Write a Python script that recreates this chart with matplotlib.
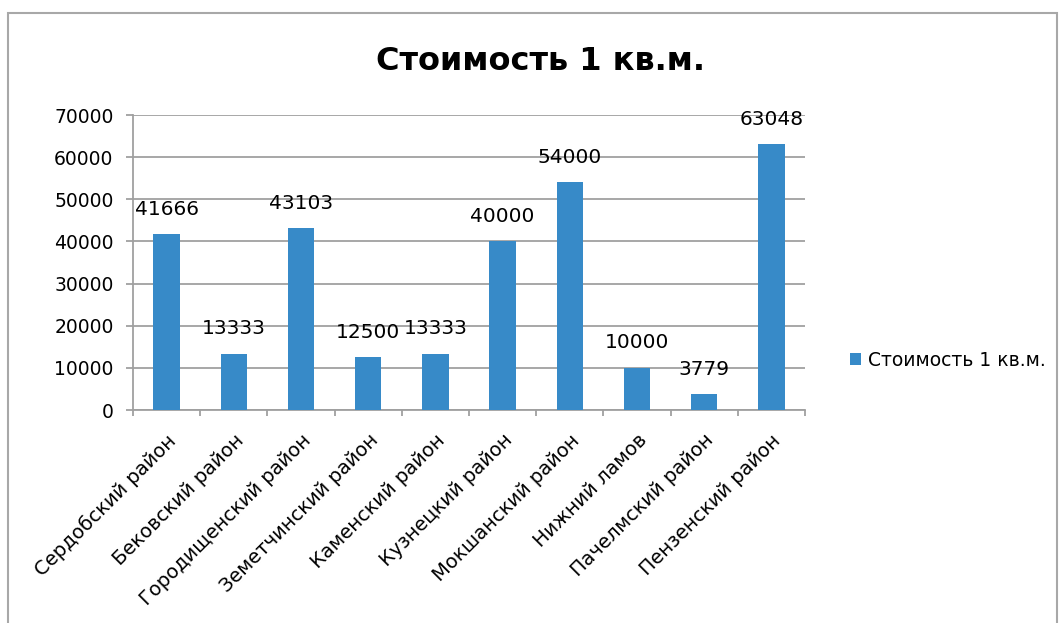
import matplotlib
matplotlib.use("Agg")
import matplotlib.pyplot as plt
from matplotlib.patches import Rectangle, Patch
import numpy as np

plt.rcParams['font.family'] = ['DejaVu Sans']

categories = ["Сердобский район", "Бековский район", "Городищенский район",
              "Земетчинский район", "Каменский район", "Кузнецкий район",
              "Мокшанский район", "Нижний ламов", "Пачелмский район",
              "Пензенский район"]
values = [41666, 13333, 43103, 12500, 13333, 40000, 54000, 10000, 3779, 63048]
yticks = [0, 10000, 20000, 30000, 40000, 50000, 60000, 70000]
series_name = "Стоимость 1 кв.м."
title = "Стоимость 1 кв.м."

W, H = 1059, 623
fig = plt.figure(figsize=(W / 100, H / 100), dpi=100)
fig.patch.set_facecolor("white")
fig.patches.append(Rectangle((8 / W, -0.1), (1057 - 8) / W, 1.1 - 13 / H,
                             transform=fig.transFigure, fill=False,
                             edgecolor="#a8a8a8", lw=1.5))

left, right, top, bottom = 133, 805, 115, 410
ax = fig.add_axes([left / W, 1 - bottom / H, (right - left) / W, (bottom - top) / H])

color = "#378AC8"
gcol = "#a0a0a0"
x = np.arange(len(categories))
ax.bar(x, values, width=0.39, color=color, zorder=3)
ax.set_xlim(-0.5, len(categories) - 0.5)
ax.set_ylim(0, 70000)
ax.set_yticks(yticks)
ax.set_yticklabels([str(v) for v in yticks], fontsize=13.5)
ax.grid(axis="y", color=gcol, lw=1.3, zorder=0)

ax.set_xticks(np.arange(len(categories) + 1) - 0.5)
ax.set_xticklabels([])
ax.set_xticks(x, minor=True)
ax.set_xticklabels(categories, minor=True, rotation=45, ha="right",
                   rotation_mode="anchor", fontsize=14)
ax.tick_params(axis="x", which="minor", length=0, pad=15)
ax.tick_params(axis="x", which="major", length=4, width=1.3, color=gcol)
ax.tick_params(axis="y", length=5, width=1.3, color=gcol, pad=9)
for lab in ax.get_xticklabels(minor=True):
    lab.set_x(lab.get_position()[0])

for s in ["top", "right"]:
    ax.spines[s].set_visible(False)
for s in ["left", "bottom"]:
    ax.spines[s].set_color(gcol)
    ax.spines[s].set_linewidth(1.3)

for xi, v in zip(x, values):
    ax.annotate(str(v), (xi, v), xytext=(0, 18), textcoords="offset points",
                ha="center", va="center", fontsize=14.5)

fig.text(540 / W, 1 - 62 / H, title, ha="center", va="center",
         fontsize=23, fontweight="bold")

fig.legend(handles=[Patch(facecolor=color)], labels=[series_name],
           loc="center left", bbox_to_anchor=(833 / W, 1 - 360 / H),
           frameon=False, fontsize=13.5, handlelength=0.6, handleheight=0.6,
           handletextpad=0.35)

fig.savefig("out.png", dpi=100)
